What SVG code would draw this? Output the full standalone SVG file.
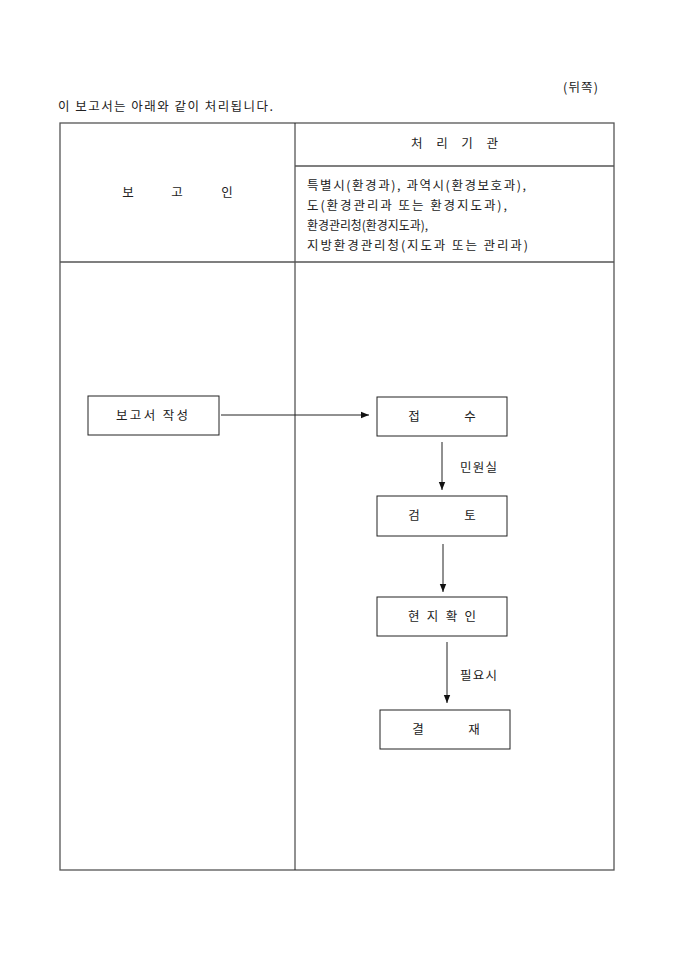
<svg xmlns="http://www.w3.org/2000/svg" width="680" height="962" viewBox="0 0 680 962">
<defs>
<style>
text{font-family:"Noto Sans CJK KR","Noto Sans",sans-serif;font-size:12.5px;fill:#222}
.box{fill:#fff;stroke:#222;stroke-width:1}
.ln{stroke:#222;stroke-width:1;fill:none}
.frame{fill:none;stroke:#555;stroke-width:1.3}
.c{text-anchor:middle}
</style>
<marker id="ah" viewBox="0 0 10 10" refX="10" refY="5" markerWidth="8" markerHeight="8" markerUnits="userSpaceOnUse" orient="auto">
<path d="M0,1 L10,5 L0,9 z" fill="#111"/>
</marker>
</defs>
<rect width="680" height="962" fill="#fff"/>
<text x="563" y="92" textLength="35" lengthAdjust="spacing">(뒤쪽)</text>
<text x="58" y="111" textLength="215" lengthAdjust="spacing">이 보고서는 아래와 같이 처리됩니다.</text>
<g id="table">
<rect class="frame" x="60" y="123" width="554" height="747"/>
<line class="ln" x1="295" y1="123" x2="295" y2="870"/>
<line class="frame" x1="60" y1="262" x2="614" y2="262"/>
<line class="frame" x1="295" y1="166" x2="614" y2="166"/>
<text x="128" y="197" class="c">보</text>
<text x="177" y="197" class="c">고</text>
<text x="227" y="197" class="c">인</text>
<text x="411" y="148" textLength="87" lengthAdjust="spacing">처리기관</text>
<text x="307" y="190" textLength="219" lengthAdjust="spacing">특별시(환경과), 과역시(환경보호과),</text>
<text x="307" y="210" textLength="200" lengthAdjust="spacing">도(환경관리과 또는 환경지도과),</text>
<text x="307" y="230" textLength="121" lengthAdjust="spacingAndGlyphs">환경관리청(환경지도과),</text>
<text x="307" y="250" textLength="221" lengthAdjust="spacing">지방환경관리청(지도과 또는 관리과)</text>
</g>
<g id="n1"><rect class="box" x="88" y="396" width="131" height="39"/><text x="116" y="420" textLength="72" lengthAdjust="spacing">보고서 작성</text></g>
<g id="n2"><rect class="box" x="377" y="397" width="130" height="39"/><text x="414" y="421" class="c">접</text><text x="470" y="421" class="c">수</text></g>
<g id="n3"><rect class="box" x="377" y="496" width="130" height="40"/><text x="414" y="520" class="c">검</text><text x="470" y="520" class="c">토</text></g>
<g id="n4"><rect class="box" x="377" y="597" width="130" height="39"/><text x="408" y="621" textLength="68" lengthAdjust="spacing">현지확인</text></g>
<g id="n5"><rect class="box" x="380" y="710" width="130" height="39"/><text x="418" y="734" class="c">결</text><text x="474" y="734" class="c">재</text></g>
<g id="connectors">
<line class="ln" x1="221" y1="415" x2="369" y2="415" marker-end="url(#ah)"/>
<line class="ln" x1="442" y1="442" x2="442" y2="490" marker-end="url(#ah)"/>
<line class="ln" x1="443" y1="544" x2="443" y2="592" marker-end="url(#ah)"/>
<line class="ln" x1="447" y1="642" x2="447" y2="703" marker-end="url(#ah)"/>
<text x="460" y="472" textLength="37" lengthAdjust="spacing">민원실</text>
<text x="460" y="680" textLength="37" lengthAdjust="spacing">필요시</text>
</g>
</svg>
